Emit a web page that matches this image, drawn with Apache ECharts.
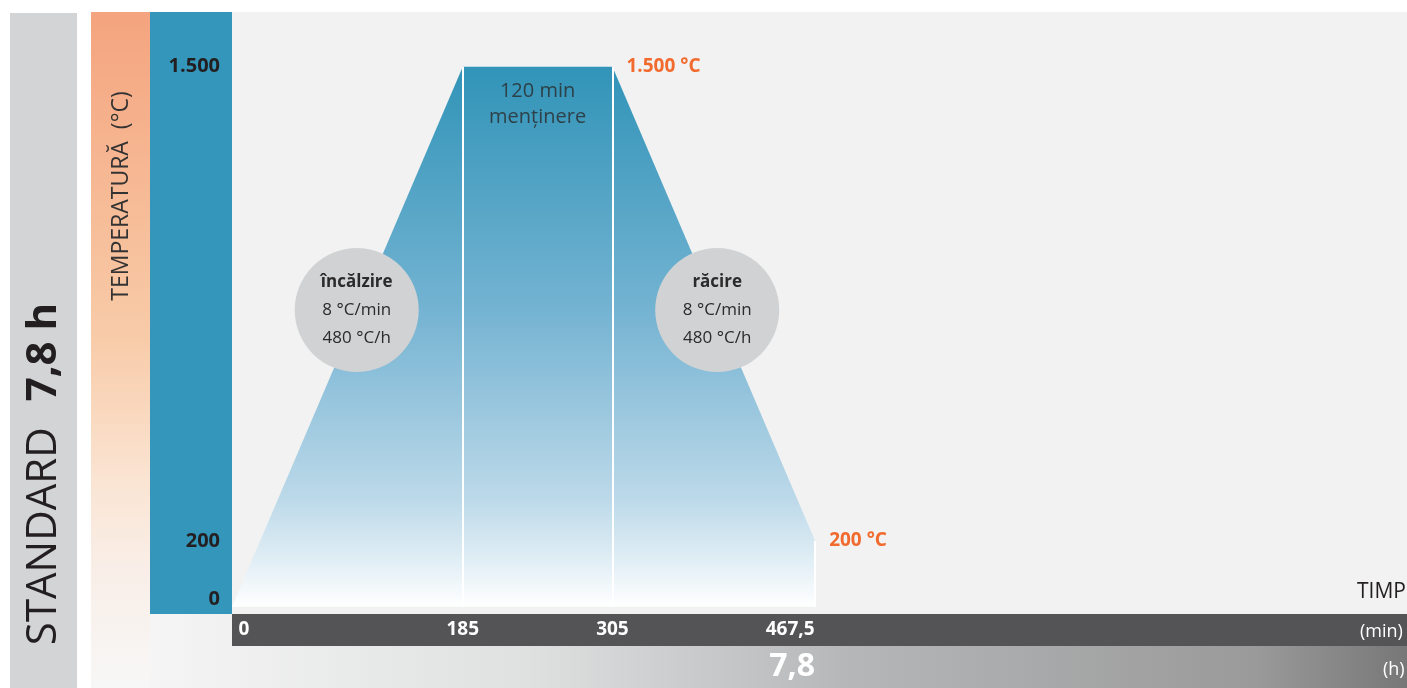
<!DOCTYPE html>
<html>
<head>
<meta charset="utf-8">
<script src="https://cdn.jsdelivr.net/npm/echarts@6/dist/echarts.min.js"></script>
<style>
  html, body { margin: 0; padding: 0; background: #fff; }
  #chart { width: 1407px; height: 688px; }
</style>
</head>
<body>
<div id="chart"></div>
<script>
// firing profile: time (min) and temperature (°C)
const timeMin = [0, 185, 305, 467.5]
const tempC = [20, 1500, 1500, 200]
const yTicks = [0, 200, 1500]
const xTicks = [0, 185, 305, 467.5]
const hourTicks = [467.5]
const phaseNames = ['încălzire', 'răcire']

// 1500 -> "1.500", 467.5 -> "467,5"
const fmt = v => {
  const s = String(v).replace('.', ',')
  return v >= 1000 ? s.slice(0, -3) + '.' + s.slice(-3) : s
}

const heatRate = Math.round((tempC[1] - tempC[0]) / (timeMin[1] - timeMin[0]))
const coolRate = Math.round((tempC[2] - tempC[3]) / (timeMin[3] - timeMin[2]))
const holdMin = timeMin[2] - timeMin[1]

const font = '"Open Sans", sans-serif'
const dark = '#231f20'
const orange = '#f26a2e'

const chart = echarts.init(document.getElementById('chart'))

const profileData = timeMin.map((t, i) => {
  const item = { value: [t, tempC[i]] }
  if (i === 2 || i === 3) {
    item.label = {
      show: true,
      position: 'right',
      distance: 14,
      formatter: fmt(tempC[i]) + ' °C',
      color: orange,
      fontFamily: font,
      fontSize: 19,
      fontWeight: 'bold'
    }
  }
  return item
})

const whiteLines = [1, 2, 3].map(i => [
  { coord: [timeMin[i], tempC[i]] },
  { coord: [timeMin[i], tempC[0]] }
])

const circleLabel = (name, rate) =>
  '{t|' + name + '}\n{v|' + rate + ' °C/min}\n{v|' + rate * 60 + ' °C/h}'

const option = {
  backgroundColor: '#ffffff',
  animation: false,
  grid: {
    left: 232,
    right: 0,
    top: 12,
    bottom: 74,
    show: true,
    backgroundColor: '#f1f2f1',
    borderWidth: 0
  },
  xAxis: [
    {
      type: 'value',
      min: 0,
      max: 942,
      axisLine: { show: false },
      axisTick: { show: false },
      splitLine: { show: false },
      axisLabel: {
        customValues: xTicks,
        margin: 6,
        color: '#fff',
        fontFamily: font,
        fontSize: 19,
        fontWeight: 'bold',
        formatter: v => {
          if (v === 0) return '{l|0}'
          if (v === timeMin[3]) return '{r|' + fmt(v) + '}'
          return '{n|' + fmt(v) + '}'
        },
        rich: {
          l: { padding: [0, 0, 0, 24], color: '#fff', fontFamily: font, fontSize: 19, fontWeight: 'bold' },
          r: { padding: [0, 50, 0, 0], color: '#fff', fontFamily: font, fontSize: 19, fontWeight: 'bold' },
          n: { color: '#fff', fontFamily: font, fontSize: 19, fontWeight: 'bold' }
        }
      }
    },
    {
      type: 'value',
      position: 'bottom',
      offset: 32,
      min: 0,
      max: 942,
      axisLine: { show: false },
      axisTick: { show: false },
      splitLine: { show: false },
      axisLabel: {
        customValues: hourTicks,
        margin: 5,
        formatter: v => '{h|' + (v / 60).toFixed(1).replace('.', ',') + '}',
        rich: {
          h: { padding: [0, 46, 0, 0], color: '#fff', fontFamily: font, fontSize: 32, fontWeight: 'bold' }
        }
      }
    }
  ],
  yAxis: {
    type: 'value',
    min: 0,
    max: 1650,
    axisLine: { show: false },
    axisTick: { show: false },
    splitLine: { show: false },
    axisLabel: {
      customValues: yTicks,
      margin: 12,
      formatter: v => (v === 0 ? '{z|0}' : '{n|' + fmt(v) + '}'),
      rich: {
        z: { padding: [0, 0, 30, 0], color: dark, fontFamily: font, fontSize: 20, fontWeight: 'bold' },
        n: { color: dark, fontFamily: font, fontSize: 20, fontWeight: 'bold' }
      }
    }
  },
  graphic: [
    { type: 'rect', z: -1, shape: { x: 10, y: 13, width: 67, height: 675 }, style: { fill: '#d3d4d6' } },
    {
      type: 'rect', z: -1, shape: { x: 91, y: 12, width: 59, height: 676 },
      style: {
        fill: new echarts.graphic.LinearGradient(0, 0, 0, 1, [
          { offset: 0, color: '#f4a47e' },
          { offset: 0.48, color: '#f8cba8' },
          { offset: 0.69, color: '#fae4d2' },
          { offset: 0.82, color: '#f9eee7' },
          { offset: 1, color: '#f7f7f7' }
        ])
      }
    },
    { type: 'rect', z: -1, shape: { x: 150, y: 12, width: 82, height: 602 }, style: { fill: '#3396ba' } },
    {
      type: 'rect', z: -1, shape: { x: 150, y: 614, width: 1257, height: 74 },
      style: {
        fill: new echarts.graphic.LinearGradient(0, 0, 1, 0, [
          { offset: 0, color: '#f5f5f5' },
          { offset: 0.3, color: '#dfe0e0' },
          { offset: 0.56, color: '#b5b6b8' },
          { offset: 0.88, color: '#9a9a9a' },
          { offset: 1, color: '#777777' }
        ])
      }
    },
    { type: 'rect', z: -1, shape: { x: 232, y: 614, width: 1175, height: 32 }, style: { fill: '#545456' } },
    {
      type: 'text', z: 10, x: 44, y: 474, rotation: Math.PI / 2,
      style: {
        text: '{a|STANDARD}{b|7,8 h}',
        align: 'center',
        verticalAlign: 'middle',
        rich: {
          a: { fontFamily: font, fontSize: 42, fill: dark },
          b: { fontFamily: font, fontSize: 42, fontWeight: 'bold', fill: dark, padding: [0, 0, 0, 26] }
        }
      }
    },
    {
      type: 'text', z: 10, x: 121, y: 196, rotation: Math.PI / 2,
      style: {
        text: 'TEMPERATURĂ  (°C)', align: 'center', verticalAlign: 'middle',
        fontFamily: font, fontSize: 23, fill: '#333'
      }
    },
    {
      type: 'text', z: 10, x: 1357, y: 592,
      style: { text: 'TIMP', verticalAlign: 'middle', fontFamily: font, fontSize: 21, fill: dark }
    },
    {
      type: 'text', z: 10, x: 1360, y: 632,
      style: { text: '(min)', verticalAlign: 'middle', fontFamily: font, fontSize: 18, fill: '#fff' }
    },
    {
      type: 'text', z: 10, x: 1383, y: 670,
      style: { text: '(h)', verticalAlign: 'middle', fontFamily: font, fontSize: 18, fill: '#fff' }
    }
  ],
  series: [
    {
      type: 'line',
      z: 2,
      data: profileData,
      symbol: 'circle',
      symbolSize: 0,
      showSymbol: true,
      lineStyle: { width: 0 },
      label: { show: false },
      areaStyle: {
        origin: tempC[0],
        opacity: 1,
        color: new echarts.graphic.LinearGradient(0, 0, 0, 1, [
          { offset: 0, color: '#3194b8' },
          { offset: 0.45, color: '#74b3d2' },
          { offset: 0.8, color: '#bcd9e9' },
          { offset: 0.93, color: '#e6f1f7' },
          { offset: 1, color: '#ffffff' }
        ])
      },
      markLine: {
        silent: true,
        symbol: 'none',
        label: { show: false },
        lineStyle: { color: '#ffffff', width: 2, type: 'solid' },
        data: whiteLines
      }
    },
    {
      type: 'scatter',
      z: 5,
      silent: true,
      symbolSize: 124,
      itemStyle: { color: '#d1d2d4', opacity: 1 },
      label: {
        show: true,
        position: 'inside',
        lineHeight: 28,
        rich: {
          t: { fontFamily: font, fontSize: 17, fontWeight: 'bold', color: '#2b2b2b', lineHeight: 28 },
          v: { fontFamily: font, fontSize: 17, color: '#2b2b2b', lineHeight: 28 }
        }
      },
      data: [
        { value: [100, 833], label: { formatter: circleLabel(phaseNames[0], heatRate) } },
        { value: [389, 833], label: { formatter: circleLabel(phaseNames[1], coolRate) } }
      ]
    },
    {
      type: 'scatter',
      z: 5,
      silent: true,
      symbolSize: 2,
      itemStyle: { color: 'transparent' },
      label: {
        show: true,
        position: 'inside',
        fontFamily: font,
        fontSize: 20,
        lineHeight: 26,
        color: '#2b2b2b',
        formatter: holdMin + ' min\nmenținere'
      },
      data: [[(timeMin[1] + timeMin[2]) / 2, 1398]]
    }
  ]
}

chart.setOption(option)
</script>
</body>
</html>
